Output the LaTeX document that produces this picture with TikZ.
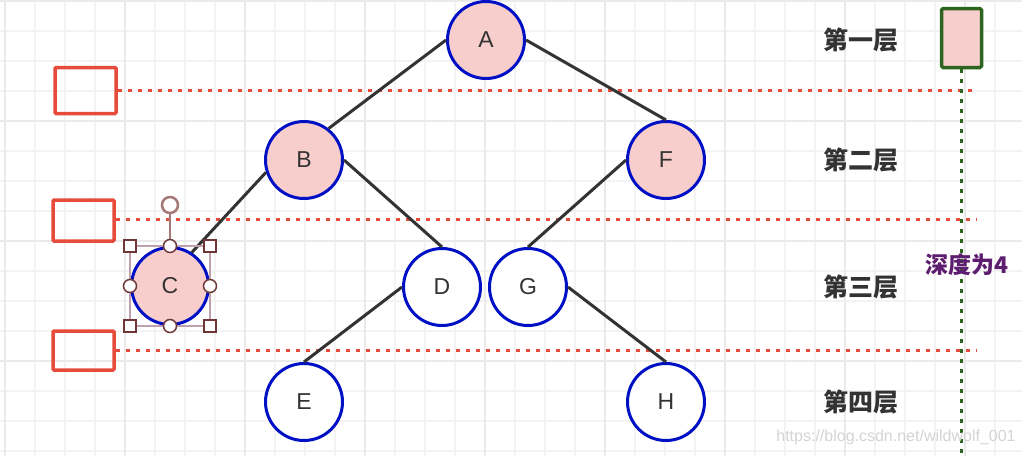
\documentclass[tikz,border=0pt]{standalone}
\usepackage{fontspec}
\setmainfont{Liberation Sans}
\newfontfamily\cjk{Noto Sans CJK SC}
\definecolor{nodeblue}{RGB}{0,16,196}
\definecolor{nodepink}{RGB}{248,206,204}
\definecolor{edgegray}{RGB}{51,51,51}
\definecolor{lred}{RGB}{230,75,60}
\definecolor{dgreen}{RGB}{45,100,30}
\definecolor{depthpurple}{RGB}{94,30,112}
\definecolor{gridminor}{RGB}{243,243,243}
\definecolor{gridmajor}{RGB}{234,234,234}
\definecolor{handle}{RGB}{110,55,55}
\definecolor{rothandle}{RGB}{165,120,120}
\definecolor{selbox}{RGB}{190,160,175}
\definecolor{wmark}{RGB}{212,212,212}
\tikzset{
  tnode/.style={circle, draw=nodeblue, line width=3pt, minimum size=77pt, inner sep=0pt,
    font=\fontsize{23}{23}\selectfont, text=edgegray},
  pinknode/.style={tnode, fill=nodepink},
  whitenode/.style={tnode, fill=white},
  edge/.style={draw=edgegray, line width=3pt},
  redbox/.style={draw=lred, line width=3.5pt, rounded corners=1pt, inner sep=0pt},
  reddots/.style={draw=lred, line width=3.5pt, dash pattern=on 4pt off 6pt},
  greendots/.style={draw=dgreen, line width=3pt, dash pattern=on 4pt off 6pt},
  layer/.style={font=\cjk\bfseries\fontsize{25}{25}\selectfont, text=edgegray},
  sqhandle/.style={rectangle, draw=handle, fill=white, line width=1.5pt, minimum size=12pt, inner sep=0pt},
  cirhandle/.style={circle, draw=handle, fill=white, line width=1.5pt, minimum size=13pt, inner sep=0pt},
}
\begin{document}
\begin{tikzpicture}[x=1pt,y=-1pt]
\useasboundingbox (0,0) rectangle (1022,456);
\fill[white] (0,0) rectangle (1022,456);
% grid
\foreach \x in {5,35,...,1022} \draw[gridminor, line width=1.5pt] (\x,0) -- (\x,456);
\foreach \y in {1,31,...,456} \draw[gridminor, line width=1.5pt] (0,\y) -- (1022,\y);
\foreach \x in {5,125,...,1022} \draw[gridmajor, line width=1.5pt] (\x,0) -- (\x,456);
\foreach \y in {1,121,...,456} \draw[gridmajor, line width=1.5pt] (0,\y) -- (1022,\y);

% red level boxes and dotted lines
\node[redbox, minimum width=61pt, minimum height=46pt] (r1) at (85.5,90.5) {};
\node[redbox, minimum width=61pt, minimum height=41pt] (r2) at (83.5,220.5) {};
\node[redbox, minimum width=61pt, minimum height=39pt] (r3) at (83.5,350.5) {};
\coordinate (e1) at (972,90.5);
\coordinate (e2) at (976,219.5);
\coordinate (e3) at (976,350.5);
\draw[reddots] (r1.east) -- (e1);
\draw[reddots] (r2.east |- e2) -- (e2);
\draw[reddots] (r3.east) -- (e3);

% green depth marker
\node[draw=dgreen, fill=nodepink, line width=3.5pt, rounded corners=1.5pt, minimum width=40pt, minimum height=59pt, inner sep=0pt] (g) at (961.5,38) {};
\coordinate (gend) at (961.5,456);
\draw[greendots] (g.south) -- (gend);

% tree nodes
\node[pinknode] (A) at (486,40) {A};
\node[pinknode] (B) at (304,160) {B};
\node[pinknode] (F) at (666,160) {F};
\node[pinknode] (C) at (170,286) {C};
\node[whitenode] (D) at (442,287) {D};
\node[whitenode] (G) at (528,287) {G};
\node[whitenode] (E) at (304,402) {E};
\node[whitenode] (H) at (666,402) {H};

% edges
\draw[edge] (A.west) -- (B.52);
\draw[edge] (A.east) -- (F.north);
\draw[edge] (B.198) -- (C.57);
\draw[edge] (B.east) -- (D.north);
\draw[edge] (F.west) -- (G.north);
\draw[edge] (D.west) -- (E.north);
\draw[edge] (G.east) -- (H.north);

% selection handles around C
\draw[selbox, line width=1.5pt] (130,246) rectangle (210,326);
\node[circle, draw=rothandle, fill=white, line width=2.5pt, minimum size=16pt, inner sep=0pt] (rot) at (170,205) {};
\node[cirhandle] (hn) at (170,246) {};
\draw[rothandle, line width=1.5pt] (rot.south) -- (hn.north);
\node[sqhandle] (hnw) at (130,246) {};
\node[sqhandle] (hne) at (210,246) {};
\node[sqhandle] (hsw) at (130,326) {};
\node[sqhandle] (hse) at (210,326) {};
\node[cirhandle] (hw) at (130,286) {};
\node[cirhandle] (he) at (210,286) {};
\node[cirhandle] (hs) at (170,326) {};

% layer labels
\node[layer] (l1) at (861,40) {第一层};
\node[layer] (l2) at (861,160) {第二层};
\node[layer] (l3) at (861,287) {第三层};
\node[layer] (l4) at (861,402) {第四层};
\node[font=\cjk\bfseries\fontsize{23}{23}\selectfont, text=depthpurple] (depth) at (967,265) {深度为4};

% watermark
\node[font=\fontsize{16}{16}\selectfont, text=wmark] (wm) at (896,437) {https://blog.csdn.net/wildwolf\_001};
\end{tikzpicture}
\end{document}
